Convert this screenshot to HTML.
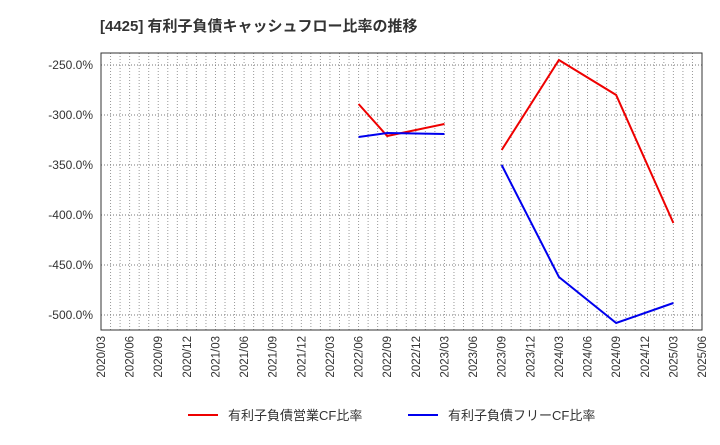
<!DOCTYPE html>
<html><head><meta charset="utf-8"><style>
body{margin:0;background:#fff;}
svg text{font-family:"Liberation Sans","Noto Sans CJK JP",sans-serif;}
</style></head><body>
<svg id="c" width="720" height="440" xmlns="http://www.w3.org/2000/svg">
<text x="100" y="31" font-size="15" font-weight="bold" fill="#333">[4425]  有利子負債キャッシュフロー比率の推移</text>
<g id="grid"></g><g id="axes"></g><g id="series"></g>
<g>
<line x1="188" y1="415" x2="218" y2="415" stroke="#e00" stroke-width="2"/>
<text x="228" y="420" font-size="13" fill="#333">有利子負債営業CF比率</text>
<line x1="408" y1="415" x2="438" y2="415" stroke="#00e" stroke-width="2"/>
<text x="448" y="420" font-size="13" fill="#333">有利子負債フリーCF比率</text>
</g>
</svg>
<script>
const xLabels=["2020/03","2020/06","2020/09","2020/12","2021/03","2021/06","2021/09","2021/12","2022/03","2022/06","2022/09","2022/12","2023/03","2023/06","2023/09","2023/12","2024/03","2024/06","2024/09","2024/12","2025/03","2025/06"];
const yTicks=[-250,-300,-350,-400,-450,-500];
const redSeries=[null,null,null,null,null,null,null,null,null,-289,-321,null,-309,null,-335,null,-245,null,-280,null,-408,null];
const blueSeries=[null,null,null,null,null,null,null,null,null,-322,-318,null,-319,null,-350,null,-462,null,-508,null,-488,null];
const segmentBreaks=[13];
const L=101,R=702,T=53,B=330,ymax=-238,ymin=-515;
const ns="http://www.w3.org/2000/svg";
const xs=i=>L+i*(R-L)/(xLabels.length-1);
const ys=v=>T+(ymax-v)/(ymax-ymin)*(B-T);
function mk(p,t,a){const e=document.createElementNS(ns,t);for(const k in a)e.setAttribute(k,a[k]);p.appendChild(e);return e;}
const grid=document.getElementById('grid'),axes=document.getElementById('axes'),ser=document.getElementById('series');
for(let m=1;m<(xLabels.length-1)*3;m++){const x=L+m*(R-L)/((xLabels.length-1)*3);
const g=mk(grid,'line',{x1:x,x2:x,y1:T,y2:B,stroke:'#999','stroke-dasharray':'1,2','stroke-width':1});

}
yTicks.forEach(v=>{const y=ys(v);
const g=mk(grid,'line',{x1:L,x2:R,y1:y,y2:y,stroke:'#777','stroke-dasharray':'1,2','stroke-width':1});


const t=mk(axes,'text',{x:L-8,y:y+4,'font-size':12,'text-anchor':'end',fill:'#333'});t.textContent=v.toFixed(1)+'%';

});
xLabels.forEach((s,i)=>{const x=xs(i);
const t=mk(axes,'text',{x:x+4,y:B+6,'font-size':11.5,'text-anchor':'end',fill:'#333',transform:`rotate(-90 ${x+4} ${B+6})`});t.textContent=s;

});
const fr=mk(axes,'rect',{x:L,y:T,width:R-L,height:B-T,fill:'none',stroke:'#333','stroke-width':1});


function draw(arr,col,name){let segs=[],cur=[];
arr.forEach((v,i)=>{if(segmentBreaks.includes(i)&&cur.length){segs.push(cur);cur=[];}if(v===null)return;cur.push([xs(i),ys(v)]);});
if(cur.length)segs.push(cur);
segs.forEach(s=>{const p=mk(ser,'polyline',{points:s.map(q=>q.join(',')).join(' '),fill:'none',stroke:col,'stroke-width':2});

});}
draw(redSeries,'#e00','operating-cf-ratio-line');
draw(blueSeries,'#00e','free-cf-ratio-line');
</script>
</body></html>
